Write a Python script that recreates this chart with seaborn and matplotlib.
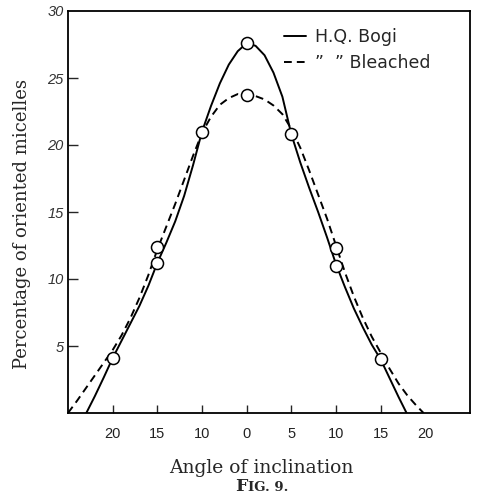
import numpy as np
import pandas as pd
import matplotlib
matplotlib.use("Agg")
import matplotlib.pyplot as plt
import seaborn as sns

# ---- data ----
series_names = ["H.Q. Bogi", "\u201d  \u201d Bleached"]

bogi_curve_x = [-17.95, -17.0, -16.0, -15.0, -14.0, -13.0, -12.0, -11.0, -10.0, -9.0,
                -8.0, -7.0, -6.0, -5.0, -4.0, -3.0, -2.0, -1.0, 0.0, 1.0,
                2.0, 3.0, 4.0, 5.0, 6.0, 7.0, 8.0, 9.0, 10.0, 11.0,
                12.0, 13.0, 14.0, 15.0, 16.0, 17.0, 17.9]
bogi_curve_y = [0.0, 1.25, 2.65, 4.1, 5.4, 6.7, 8.0, 9.5, 11.2, 12.7,
                14.3, 16.2, 18.5, 21.0, 22.9, 24.6, 26.0, 27.0, 27.6, 27.4,
                26.7, 25.4, 23.6, 20.8, 18.7, 16.8, 15.0, 13.1, 11.1, 9.4,
                7.8, 6.4, 5.1, 4.0, 2.6, 1.2, 0.0]

bleached_curve_x = [-20.0, -19.0, -18.0, -17.0, -16.0, -15.0, -14.0, -13.0, -12.0, -11.0,
                    -10.0, -9.0, -8.0, -7.0, -6.0, -5.0, -4.0, -3.0, -2.0, -1.0,
                    0.0, 1.0, 2.0, 3.0, 4.0, 5.0, 6.0, 7.0, 8.0, 9.0,
                    10.0, 11.0, 12.0, 13.0, 14.0, 15.0, 16.0, 17.0, 18.0, 19.0, 19.8]
bleached_curve_y = [0.0, 0.9, 1.85, 2.8, 3.75, 4.7, 5.8, 7.1, 8.6, 10.3,
                    12.2, 13.9, 15.6, 17.4, 19.2, 20.9, 22.1, 23.0, 23.5, 23.8,
                    23.7, 23.65, 23.4, 22.95, 22.3, 21.2, 19.8, 18.1, 16.3, 14.5,
                    12.5, 10.5, 8.7, 7.1, 5.7, 4.5, 3.3, 2.2, 1.3, 0.55, 0.0]

bogi_pts_x = [-15, -10, -5, 0, 5, 10, 15]
bogi_pts_y = [4.1, 11.2, 21.0, 27.6, 20.8, 11.0, 4.0]
bleached_pts_x = [-10, 0, 10]
bleached_pts_y = [12.4, 23.7, 12.3]

xtick_pos = [-15, -10, -5, 0, 5, 10, 15, 20]
xtick_labels = ["20", "15", "10", "0", "5", "10", "15", "20"]
ytick_pos = [5, 10, 15, 20, 25, 30]
ytick_labels = ["5", "10", "15", "20", "25", "30"]

x_label = "Angle of inclination"
y_label = "Percentage of oriented micelles"

# ---- tables ----
curves = pd.concat([
    pd.DataFrame({"angle": bogi_curve_x, "pct": bogi_curve_y, "series": series_names[0]}),
    pd.DataFrame({"angle": bleached_curve_x, "pct": bleached_curve_y, "series": series_names[1]}),
], ignore_index=True)
points = pd.DataFrame({"angle": bogi_pts_x + bleached_pts_x,
                       "pct": bogi_pts_y + bleached_pts_y})

sns.set_style("ticks")
plt.rcParams["font.family"] = ["DejaVu Sans"]

fig = plt.figure(figsize=(4.79, 5.0), dpi=100)
ax = fig.add_axes([68 / 479, 87 / 500, 402 / 479, 402 / 500])

sns.lineplot(data=curves, x="angle", y="pct", style="series",
             style_order=series_names,
             dashes={series_names[0]: "", series_names[1]: (4, 2.6)},
             sort=False, estimator=None, color="black", lw=1.4, ax=ax)
sns.scatterplot(data=points, x="angle", y="pct", marker="o", s=75,
                facecolor="white", edgecolor="black", linewidth=1.1,
                zorder=4, legend=False, ax=ax)

ax.set_xlim(-20, 25)
ax.set_ylim(0, 30)
ax.set_xticks(xtick_pos)
ax.set_xticklabels(xtick_labels, fontfamily="Liberation Sans", fontsize=10.5, color="#222222")
ax.set_yticks(ytick_pos)
ax.set_yticklabels(ytick_labels, fontfamily="Liberation Sans", fontsize=10.5, color="#333333",
                   fontstyle="italic")
ax.tick_params(axis="x", direction="in", length=6, width=1.0, pad=10)
ax.tick_params(axis="y", direction="in", length=7, width=1.0, pad=3)
ax.xaxis.get_major_ticks()[-1].tick1line.set_visible(False)
ax.yaxis.get_major_ticks()[-1].tick1line.set_visible(False)
for sp in ax.spines.values():
    sp.set_visible(True)
    sp.set_linewidth(1.3)
    sp.set_color("black")

ax.set_xlabel(x_label, fontfamily="DejaVu Serif", fontsize=13.5)
ax.xaxis.set_label_coords(0.48, -0.115)
ax.set_ylabel(y_label, fontfamily="DejaVu Serif", fontsize=13.0)
ax.yaxis.set_label_coords(-0.093, 0.47)

handles, labels = ax.get_legend_handles_labels()
ax.legend(handles, labels, loc="upper left", bbox_to_anchor=(0.537, 0.957),
          frameon=False, borderpad=0, borderaxespad=0, handlelength=1.3,
          handletextpad=0.5, labelspacing=0.45, prop={"family": "DejaVu Sans", "size": 12.5})

# "FIG. 9." caption with small caps
renderer = fig.canvas.get_renderer()
t1 = fig.text(0, 9 / 500, "F", fontfamily="DejaVu Serif", fontweight="bold", fontsize=12.5,
              ha="left", va="baseline")
t2 = fig.text(0, 9 / 500, "IG. 9.", fontfamily="DejaVu Serif", fontweight="bold", fontsize=9.5,
              ha="left", va="baseline")
w1 = t1.get_window_extent(renderer).width
w2 = t2.get_window_extent(renderer).width
start = 261 - (w1 + w2) / 2
t1.set_x(start / 479)
t2.set_x((start + w1 + 0.5) / 479)

fig.savefig("out.png", dpi=100)
